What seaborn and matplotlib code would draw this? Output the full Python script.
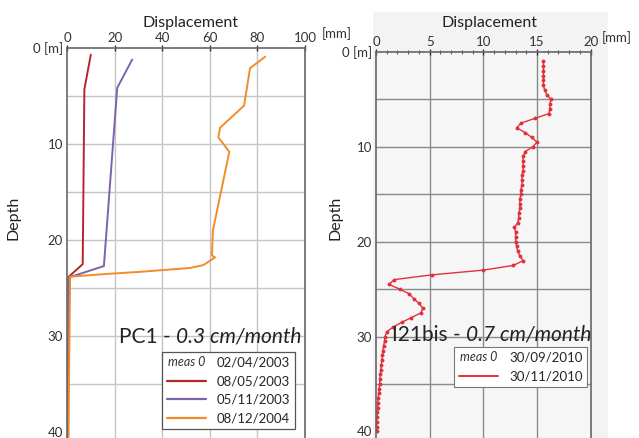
import numpy as np
import pandas as pd
import matplotlib
matplotlib.use("Agg")
import matplotlib.pyplot as plt
import seaborn as sns
from matplotlib.lines import Line2D
from matplotlib.text import Text
from matplotlib.legend_handler import HandlerBase
from matplotlib.patches import Rectangle
from matplotlib.ticker import MultipleLocator, FixedLocator

# --- PC1 (left panel), depth [m] vs displacement [mm]
pc1_dates = ["08/05/2003", "05/11/2003", "08/12/2004"]
pc1_ref = "02/04/2003"
pc1_colors = ["#b5262c", "#7d63ad", "#f28c28"]

red_depth = [0.7, 4.3, 22.5, 23.8, 40.5]
red_disp = [10.0, 7.3, 6.6, 0.8, 0.3]

purple_depth = [1.2, 4.15, 22.7, 23.9, 40.5]
purple_disp = [27.4, 21.1, 15.5, 0.6, 0.5]

orange_depth = [0.9, 2.1, 6.0, 8.3, 9.3, 10.8, 19.0, 21.6, 21.8, 22.6, 22.9, 23.3, 23.5, 23.8, 40.5]
orange_disp = [83.3, 76.9, 74.4, 64.3, 63.6, 68.2, 61.3, 60.9, 62.2, 57.3, 51.7, 30.7, 18.0, 1.3, 0.6]

# --- I21bis (right panel)
i21_ref = "30/09/2010"
i21_date = "30/11/2010"
i21_depth = [1.0, 1.5, 2.0, 2.5, 3.0, 3.5, 4.0, 4.5, 5.0, 5.5, 6.0, 6.5, 7.0, 7.5,
             8.0, 8.5, 9.0, 9.5, 10.0, 10.5, 11.0, 11.5, 12.0, 12.5, 13.0, 13.5,
             14.0, 14.5, 15.0, 15.5, 16.0, 16.5, 17.0, 17.5, 18.0, 18.5, 19.0,
             19.5, 20.0, 20.5, 21.0, 21.5, 22.0, 22.5, 23.0, 23.5, 24.0, 24.5,
             25.0, 25.5, 26.0, 26.5, 27.0, 27.5, 28.0, 28.5, 29.0, 29.5, 30.0,
             30.5, 31.0, 31.5, 32.0, 32.5, 33.0, 33.5, 34.0, 34.5, 35.0, 35.5,
             36.0, 36.5, 37.0, 37.5, 38.0, 38.5, 39.0, 39.5, 40.0]
i21_disp = [15.6, 15.6, 15.6, 15.6, 15.6, 15.6, 15.7, 15.9, 16.3, 16.2, 16.2, 16.1, 14.8, 13.5,
            13.1, 13.9, 14.5, 15.0, 14.6, 13.9, 13.7, 13.7, 13.7, 13.7, 13.6, 13.6,
            13.6, 13.5, 13.5, 13.4, 13.4, 13.4, 13.3, 13.3, 13.2, 12.9, 13.0,
            13.0, 13.0, 13.1, 13.2, 13.4, 13.7, 12.8, 10.0, 5.2, 1.7, 1.2,
            2.2, 3.1, 3.5, 4.0, 4.35, 4.2, 3.3, 2.4, 1.6, 1.0, 0.85,
            0.8, 0.7, 0.65, 0.6, 0.55, 0.5, 0.45, 0.4, 0.37, 0.33, 0.3,
            0.25, 0.2, 0.18, 0.15, 0.12, 0.1, 0.08, 0.06, 0.05]
i21_color = "#e0323c"

sns.set_theme(style="white")
plt.rcParams["font.family"] = ["Lato", "DejaVu Sans"]


class MeasText:
    pass


class MeasHandler(HandlerBase):
    def create_artists(self, legend, orig_handle, xdescent, ydescent, width, height, fontsize, trans):
        t = Text(width / 2 - xdescent, height / 2 - ydescent, "meas 0", ha="center", va="center",
                 fontsize=fontsize - 0.5, style="italic", color="#333333", transform=trans)
        return [t]


def style_axes(ax, xmax, xstep, ymax, grid_color, minor_x):
    ax.set_xlim(0, xmax)
    ax.set_ylim(ymax, 0)
    ax.xaxis.tick_top()
    ax.xaxis.set_label_position("top")
    ax.xaxis.set_major_locator(MultipleLocator(xstep))
    if minor_x:
        ax.xaxis.set_minor_locator(MultipleLocator(minor_x))
    ax.yaxis.set_major_locator(FixedLocator([0, 10, 20, 30, 40]))
    ax.yaxis.set_minor_locator(MultipleLocator(1))
    ax.set_yticklabels(["0 [m]", "10", "20", "30", "40"])
    for x in np.arange(xstep, xmax, xstep):
        ax.axvline(x, color=grid_color, lw=1, zorder=0)
    for y in [5, 10, 15, 20, 25, 30, 35]:
        ax.axhline(y, color=grid_color, lw=1, zorder=0)
    ax.tick_params(axis="both", which="major", labelsize=9.5, colors="#333333", length=4,
                   direction="inout", width=1, pad=1)
    ax.tick_params(axis="both", which="minor", length=3, direction="inout", width=0.8, colors="#555555")
    ax.tick_params(axis="x", labeltop=True, labelbottom=False, top=True, bottom=False)
    for s in ["top", "left", "right"]:
        ax.spines[s].set_color("#666666")
        ax.spines[s].set_linewidth(1.2)
    ax.spines["bottom"].set_visible(False)


fig = plt.figure(figsize=(6.39, 4.38), dpi=100)
fig.patches.append(Rectangle((373 / 639, 0), 235 / 639, 426 / 438, transform=fig.transFigure,
                             facecolor="#f3f3f3", edgecolor="none", zorder=-5))

ax1 = fig.add_axes([67 / 639, 0, 238 / 639, 390 / 438])
ax2 = fig.add_axes([376 / 639, 0, 214.7 / 639, 386 / 438])
ax2.set_facecolor("#f6f6f6")

# left panel
df1 = pd.concat([
    pd.DataFrame({"depth": red_depth, "disp": red_disp, "date": pc1_dates[0]}),
    pd.DataFrame({"depth": purple_depth, "disp": purple_disp, "date": pc1_dates[1]}),
    pd.DataFrame({"depth": orange_depth, "disp": orange_disp, "date": pc1_dates[2]}),
])
sns.lineplot(data=df1, x="disp", y="depth", hue="date", palette=pc1_colors, sort=False,
             estimator=None, lw=1.4, legend=False, ax=ax1)
style_axes(ax1, 100, 20, 40.6, "#c4c4c4", None)
ax1.set_xlabel("Displacement", fontsize=11.5, color="#222222")
ax1.xaxis.set_label_coords(0.517, 1.054)
ax1.set_ylabel("Depth", fontsize=11.5, color="#222222")
ax1.yaxis.set_label_coords(-0.197, 0.564)
ax1.annotate("[mm]", xy=(1, 1), xycoords="axes fraction", xytext=(12, 5.5),
             textcoords="offset points", ha="left", va="bottom", fontsize=9.5, color="#333333")
ax1.text(0.458, 0.26, "PC1 - ", transform=ax1.transAxes, ha="right", va="center", fontsize=15, color="#222222")
ax1.text(0.458, 0.26, "0.3 cm/month", transform=ax1.transAxes, ha="left", va="center", fontsize=15,
         style="italic", color="#222222")
h1 = [MeasText()] + [Line2D([], [], color=c, lw=1.6) for c in pc1_colors]
leg1 = ax1.legend(h1, [pc1_ref] + pc1_dates, handler_map={MeasText: MeasHandler()},
                  loc="upper right", bbox_to_anchor=(0.958, 0.2205), fontsize=9.5, frameon=True,
                  fancybox=False, edgecolor="#555555", framealpha=1, borderpad=0.35,
                  labelspacing=0.5, handlelength=3.0, handletextpad=0.8, borderaxespad=0)
leg1.get_frame().set_linewidth(0.9)

# right panel
df2 = pd.DataFrame({"depth": i21_depth, "disp": i21_disp})
sns.lineplot(data=df2, x="disp", y="depth", sort=False, estimator=None, color=i21_color,
             lw=1.0, marker="o", markersize=2.8, markeredgewidth=0, ax=ax2)
style_axes(ax2, 20, 5, 40.7, "#8a8a8a", 1)
ax2.set_xlabel("Displacement", fontsize=11.5, color="#222222")
ax2.xaxis.set_label_coords(0.529, 1.065)
ax2.set_ylabel("Depth", fontsize=11.5, color="#222222")
ax2.yaxis.set_label_coords(-0.154, 0.57)
ax2.annotate("[mm]", xy=(1, 1), xycoords="axes fraction", xytext=(8, 5.5),
             textcoords="offset points", ha="left", va="bottom", fontsize=9.5, color="#333333")
ax2.text(0.42, 0.267, "I21bis - ", transform=ax2.transAxes, ha="right", va="center", fontsize=15, color="#222222")
ax2.text(0.42, 0.267, "0.7 cm/month", transform=ax2.transAxes, ha="left", va="center", fontsize=15,
         style="italic", color="#222222")
h2 = [MeasText(), Line2D([], [], color=i21_color, lw=1.4)]
leg2 = ax2.legend(h2, [i21_ref, i21_date], handler_map={MeasText: MeasHandler()},
                  loc="upper right", bbox_to_anchor=(0.983, 0.236), fontsize=9.5, frameon=True,
                  fancybox=False, edgecolor="#777777", framealpha=1, borderpad=0.35,
                  labelspacing=0.5, handlelength=3.0, handletextpad=0.8, borderaxespad=0)
leg2.get_frame().set_linewidth(0.8)

fig.savefig("out.png", dpi=100)
